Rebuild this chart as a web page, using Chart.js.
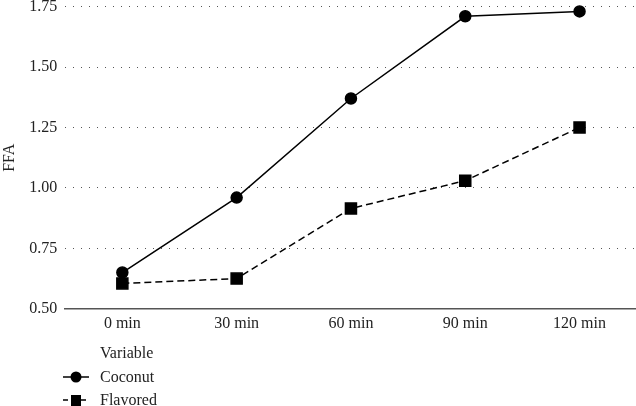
<!DOCTYPE html>
<html>
<head>
<meta charset="utf-8">
<script src="https://cdn.jsdelivr.net/npm/chart.js@4"></script>
<style>
  body { margin: 0; background: #fff; }
  #wrap { position: relative; width: 636px; height: 406px; overflow: hidden; font-family: "Liberation Serif", serif; color: #222; }
  #chart { position: absolute; left: -2px; top: -11px; }
  .leg { position: absolute; left: 0; font-size: 16px; line-height: 18px; white-space: nowrap; }
  .leg svg { position: absolute; left: 62px; top: 2px; }
  .leg span { position: absolute; left: 100px; }
</style>
</head>
<body>
<div id="wrap">
  <canvas id="chart" width="648" height="417"></canvas>
  <div class="leg" style="top:344px"><span>Variable</span></div>
  <div class="leg" style="top:368px" id="legCoconut"><span>Coconut</span></div>
  <div class="leg" style="top:391px" id="legFlavored"><span>Flavored</span></div>
</div>
<script>
// categories and values
const times = ["0 min", "30 min", "60 min", "90 min", "120 min"];
const coconut = [0.65, 0.96, 1.37, 1.71, 1.73];
const flavored = [0.605, 0.625, 0.915, 1.03, 1.25];
const yTicks = [0.5, 0.75, 1.0, 1.25, 1.5, 1.75];

const serif = "'Liberation Serif', serif";

// legend icons (line + marker)
document.getElementById("legCoconut").insertAdjacentHTML("afterbegin",
  '<svg width="28" height="14"><line x1="1" y1="7" x2="27" y2="7" stroke="#000" stroke-width="1.5"/><circle cx="14" cy="7" r="5.5" fill="#000"/></svg>');
document.getElementById("legFlavored").insertAdjacentHTML("afterbegin",
  '<svg width="28" height="14"><line x1="1" y1="7" x2="27" y2="7" stroke="#000" stroke-width="1.5" stroke-dasharray="5 4"/><rect x="9" y="2" width="10" height="11" fill="#000"/></svg>');

const ctx = document.getElementById("chart").getContext("2d");
new Chart(ctx, {
  type: "line",
  data: {
    labels: times,
    datasets: [
      {
        label: "Coconut",
        data: coconut,
        borderColor: "#000",
        backgroundColor: "#000",
        borderWidth: 1.5,
        pointStyle: "circle",
        pointRadius: 5.5,
        tension: 0,
        clip: false,
      },
      {
        label: "Flavored",
        data: flavored,
        borderColor: "#000",
        backgroundColor: "#000",
        borderWidth: 1.5,
        borderDash: [7, 4],
        pointStyle: "rect",
        pointRadius: 7.8,
        tension: 0,
        clip: false,
      },
    ],
  },
  options: {
    responsive: false,
    animation: false,
    layout: { padding: { top: 0, right: 0, bottom: 68, left: 0 } },
    plugins: {
      legend: { display: false },
      tooltip: { enabled: false },
    },
    scales: {
      x: {
        offset: true,
        grid: { display: false, drawTicks: false },
        border: { display: true, color: "#555", width: 1.5 },
        ticks: { color: "#222", font: { family: serif, size: 16 }, padding: 5 },
      },
      y: {
        min: 0.5,
        max: 1.75,
        afterBuildTicks: (axis) => { axis.ticks = yTicks.map((v) => ({ value: v })); },
        grid: { color: "#555", lineWidth: 1, drawTicks: false },
        border: { display: false, dash: [1, 7] },
        ticks: {
          color: "#222",
          font: { family: serif, size: 16 },
          padding: 8,
          callback: (v) => v.toFixed(2),
        },
        title: { display: true, text: "FFA", color: "#222", font: { family: serif, size: 16 }, padding: 2 },
      },
    },
  },
});
</script>
</body>
</html>
